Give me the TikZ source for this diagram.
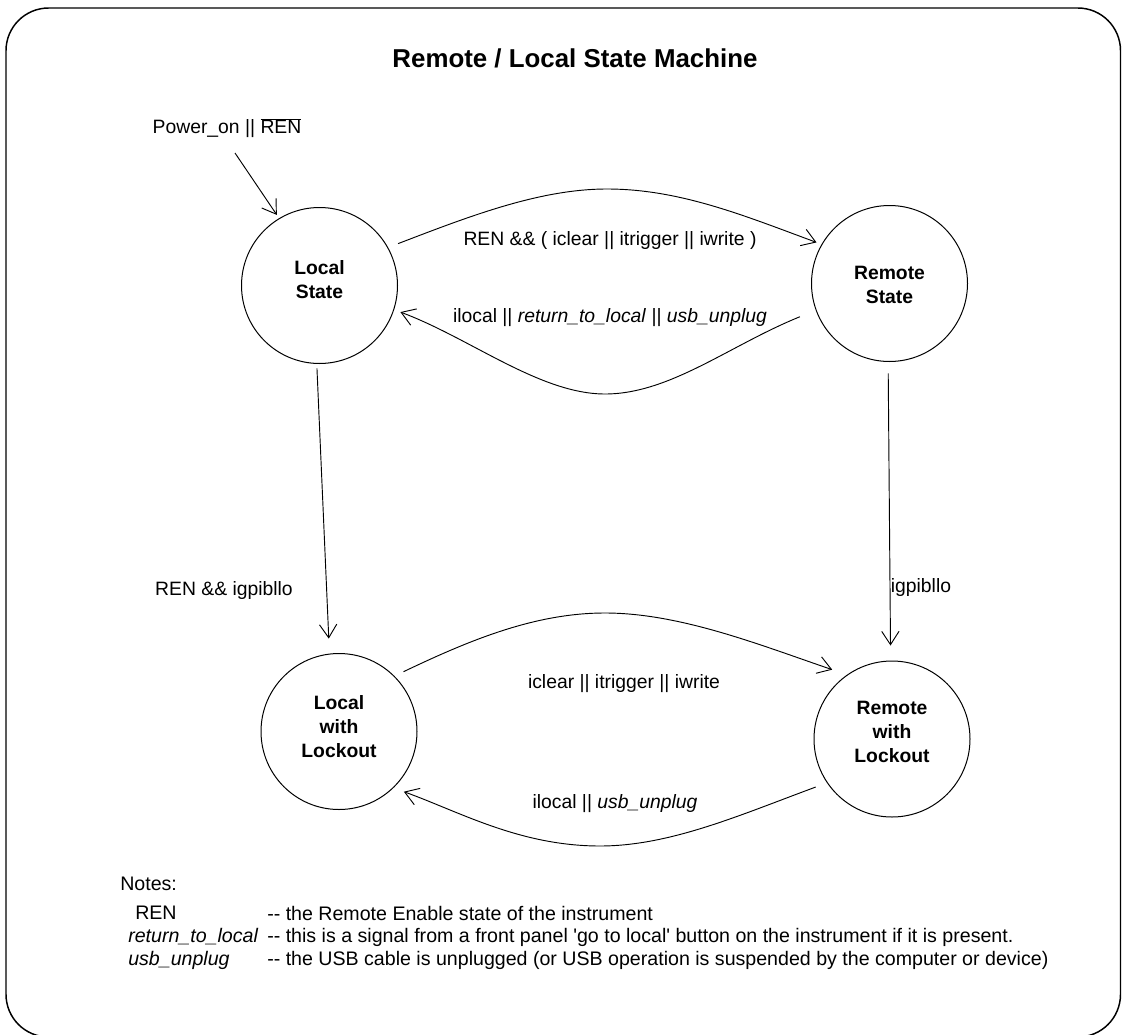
\documentclass[tikz,border=0pt]{standalone}
\usepackage{fontspec}
\setmainfont{Liberation Sans}
\usetikzlibrary{arrows.meta}
\begin{document}
\begin{tikzpicture}[x=0.75pt,y=-0.75pt,
  state/.style={circle,draw,line width=0.75pt,minimum size=117pt,inner sep=0pt},
  statetext/.style={align=center,inner sep=0pt,font=\bfseries\fontsize{14.5}{18}\selectfont},
  lbl/.style={font=\fontsize{14.5}{17}\selectfont,inner sep=0pt},
  note/.style={font=\fontsize{14.7}{17}\selectfont,inner sep=0pt,anchor=west},
  arr/.style={line width=0.7pt,-{Straight Barb[length=10pt,width=13pt,line width=0.7pt]}},
]
\useasboundingbox (0,0) rectangle (1122,1035);
\draw[line width=1.1pt, rounded corners=32pt] (6,8) rectangle (1120.5,1037);

\node[font=\bfseries\fontsize{19.4}{23}\selectfont] (title) at (575,58) {Remote / Local State Machine};

\node[state, label={[statetext,yshift=4.5pt]center:{Local\\State}}] (ls) at (319.5,285.5) {};
\node[state, label={[statetext,yshift=-1pt]center:{Remote\\State}}] (rs) at (889.5,283.5) {};
\node[state, label={[statetext,yshift=4pt]center:{Local\\with\\Lockout}}] (ll) at (339,731.5) {};
\node[state, label={[statetext,yshift=5pt]center:{Remote\\with\\Lockout}}] (rl) at (892,739) {};

% initial transition
\coordinate (pstart) at (235,153);
\node[lbl] (plbl) at (227,128) {Power\_on || $\overline{\mbox{REN}}$};
\draw[arr, shorten >=3pt] (pstart) -- (ls.121);

% Local State <-> Remote State
\draw[arr, shorten <=8pt, shorten >=4pt] (ls.29) .. controls (470,216) and (540,189) .. (607,189)
  .. controls (680,189) and (745,216) .. (rs.150);
\node[lbl] (l1) at (610,241) {REN \&\& ( iclear || itrigger || iwrite )};

\draw[arr, shorten <=12.75pt, shorten >=5pt] (rs.200) .. controls (730,345) and (670,394) .. (605,394)
  .. controls (540,394) and (470,338) .. (ls.-18);
\node[lbl] (l2) at (610,318) {ilocal || \textit{return\_to\_local} || \textit{usb\_unplug}};

% vertical transitions
\draw[arr, shorten <=3.4pt, shorten >=11.25pt] (ls.-92) -- (ll.97);
\node[lbl] (l3) at (224,590) {REN \&\& igpibllo};

\draw[arr, shorten <=8.6pt, shorten >=11.25pt] (rs.-91) -- (rl.91.5);
\node[lbl] (l4) at (921,587) {igpibllo};

% Lockout states
\draw[arr, shorten <=7.5pt, shorten >=11.7pt] (ll.45) .. controls (470,640) and (535,613) .. (605,613)
  .. controls (680,613) and (760,645) .. (rl.125);
\node[lbl] (l5) at (624,684) {iclear || itrigger || iwrite};

\draw[arr, shorten <=9pt, shorten >=8.25pt] (rl.214) .. controls (740,815) and (670,846) .. (600,846)
  .. controls (520,846) and (460,812) .. (ll.-46);
\node[lbl] (l6) at (615,804) {ilocal || \textit{usb\_unplug}};

% notes
\node[note] (nt) at (120,884) {Notes:};
\node[note] (n1a) at (135,913) {REN};
\node[note] (n1b) at (267,913) {-{}- the Remote Enable state of the instrument};
\node[note] (n2a) at (128,937) {\textit{return\_to\_local}};
\node[note] (n2b) at (267,937) {-{}- this is a signal from a front panel \textquotesingle go to local\textquotesingle{} button on the instrument if it is present.};
\node[note] (n3a) at (128,960) {\textit{usb\_unplug}};
\node[note] (n3b) at (267,960) {-{}- the USB cable is unplugged (or USB operation is suspended by the computer or device)};
\end{tikzpicture}
\end{document}
